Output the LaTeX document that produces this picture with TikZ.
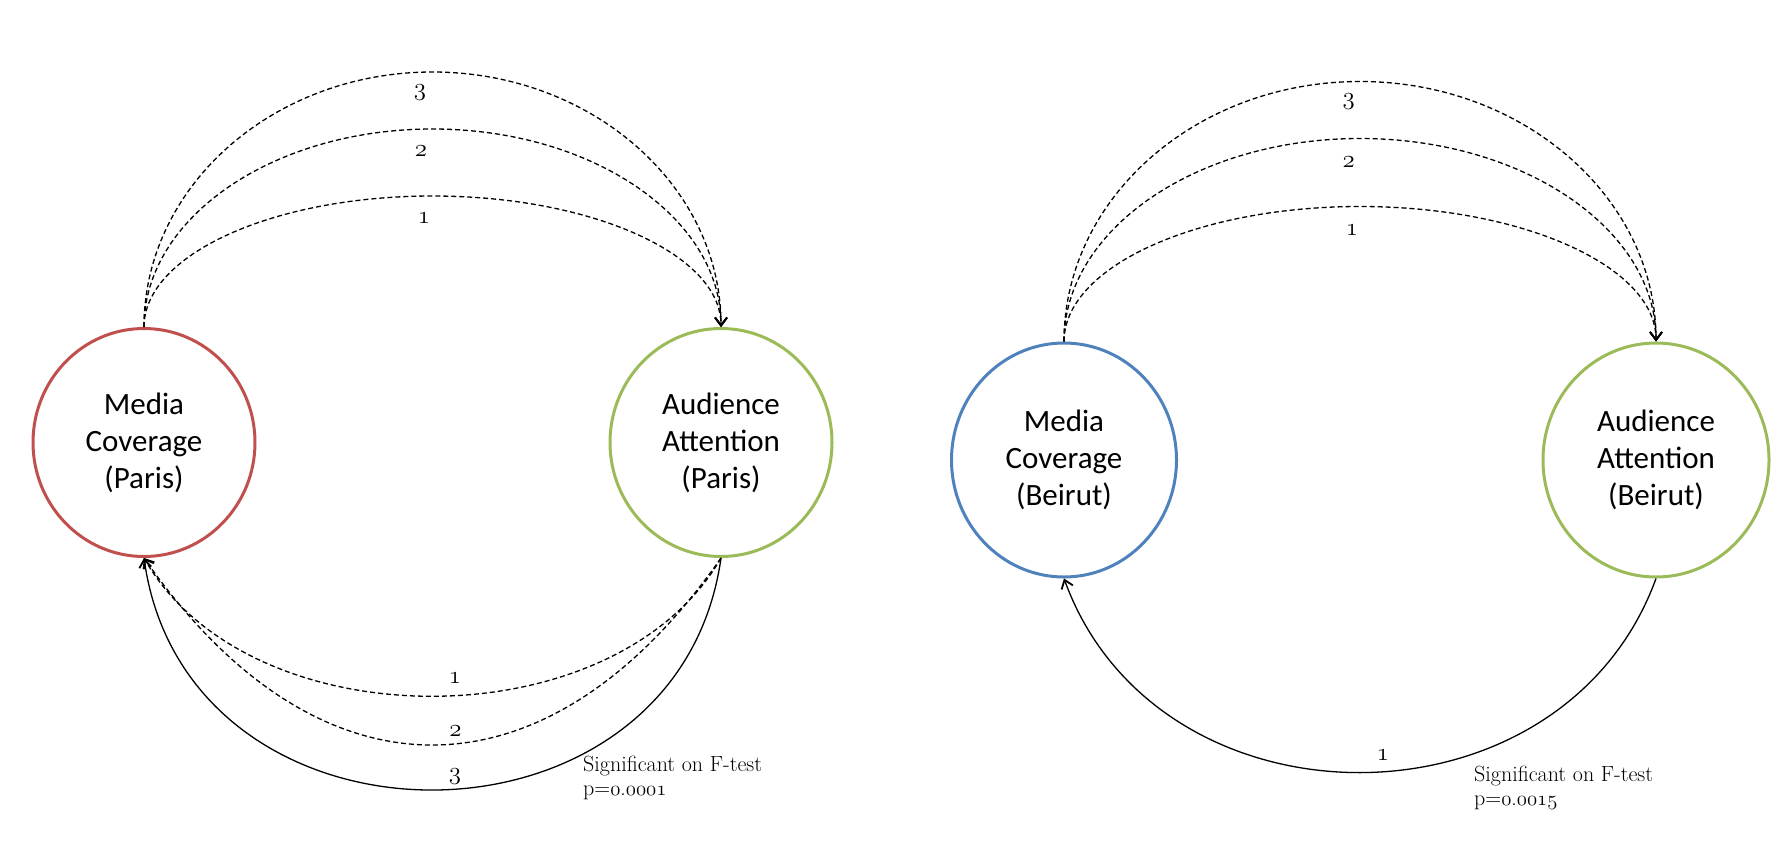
\documentclass[tikz,border=0pt]{standalone}
\usepackage{fontspec}
\newfontfamily\carlito{Carlito}
\usetikzlibrary{shapes.geometric,arrows.meta,calc}
\definecolor{cred}{RGB}{192,80,77}
\definecolor{cgreen}{RGB}{155,187,89}
\definecolor{cblue}{RGB}{79,129,189}
\newcommand\osnum[1]{{\usefont{OML}{cmm}{m}{it}#1}}
\begin{document}
\begin{tikzpicture}[x=1pt,y=1pt,
  var/.style={ellipse, draw, line width=3pt, inner sep=0pt, align=center,
     font=\carlito\fontsize{31}{37}\selectfont},
  dep/.style={line width=1.3pt, -{Straight Barb[length=8pt,width=12pt,line width=1.8pt]}},
  lag/.style={dep, dash pattern=on 5pt off 3pt},
  num/.style={font=\fontsize{27}{28}\selectfont, inner sep=0pt},
  note/.style={font=\fontsize{22}{24}\selectfont, align=left, anchor=north west, inner sep=0pt}
]
\useasboundingbox (0,0) rectangle (1789,-847);

% nodes
\node[var, draw=cred, minimum width=222pt, minimum height=228pt] (mp) at (144,-442.5) {Media\\Coverage\\(Paris)};
\node[var, draw=cgreen, minimum width=222pt, minimum height=228pt] (ap) at (721,-442.5) {Audience\\Attention\\(Paris)};
\node[var, draw=cblue, minimum width=225pt, minimum height=234pt] (mb) at (1064,-460) {Media\\Coverage\\(Beirut)};
\node[var, draw=cgreen, minimum width=226pt, minimum height=234pt] (ab) at (1656,-460) {Audience\\Attention\\(Beirut)};

% Paris: top arcs (media -> audience)
\coordinate (pt1) at ($(mp.north)!0.5!(ap.north)+(0,131)$);
\coordinate (pt2) at ($(mp.north)!0.5!(ap.north)+(0,198)$);
\coordinate (pt3) at ($(mp.north)!0.5!(ap.north)+(0,255)$);
\draw[lag] (mp.north) .. controls +(0,72.4) and +(-159.3,0) .. (pt1) .. controls +(159.3,0) and +(0,72.4) .. (ap.north);
\draw[lag] (mp.north) .. controls +(0,109.4) and +(-159.3,0) .. (pt2) .. controls +(159.3,0) and +(0,109.4) .. (ap.north);
\draw[lag] (mp.north) .. controls +(0,140.8) and +(-159.3,0) .. (pt3) .. controls +(159.3,0) and +(0,140.8) .. (ap.north);
\node[num] (lp1) at (424,-218) {\osnum{1}};
\node[num] (lp2) at (421,-151) {\osnum{2}};
\node[num] (lp3) at (420,-92.5) {\osnum{3}};

% Paris: bottom arcs (audience -> media)
\draw[lag] (ap.south) .. controls +(-120:212.5) and +(-60:212.5) .. (mp.south);
\draw[lag] (ap.south) .. controls +(-125:304) and +(-55:304) .. (mp.south);
\draw[dep] (ap.south) .. controls +(-98:312) and +(-82:312) .. (mp.south);
\node[num] (lq1) at (455,-678) {\osnum{1}};
\node[num] (lq2) at (455.5,-731) {\osnum{2}};
\node[num] (lq3) at (455,-777) {\osnum{3}};
\node[note] (sp) at (583,-756) {Significant on F-test\\p=\osnum{0}.\osnum{0001}};

% Beirut: top arcs
\coordinate (bt1) at ($(mb.north)!0.5!(ab.north)+(0,135)$);
\coordinate (bt2) at ($(mb.north)!0.5!(ab.north)+(0,203)$);
\coordinate (bt3) at ($(mb.north)!0.5!(ab.north)+(0,260)$);
\draw[lag] (mb.north) .. controls +(0,74.6) and +(-163.5,0) .. (bt1) .. controls +(163.5,0) and +(0,74.6) .. (ab.north);
\draw[lag] (mb.north) .. controls +(0,112.1) and +(-163.5,0) .. (bt2) .. controls +(163.5,0) and +(0,112.1) .. (ab.north);
\draw[lag] (mb.north) .. controls +(0,143.6) and +(-163.5,0) .. (bt3) .. controls +(163.5,0) and +(0,143.6) .. (ab.north);
\node[num] (lb1) at (1352,-230.5) {\osnum{1}};
\node[num] (lb2) at (1348.7,-161.7) {\osnum{2}};
\node[num] (lb3) at (1348.7,-101.7) {\osnum{3}};

% Beirut: bottom arc
\draw[dep] (ab.south) .. controls +(-110:275) and +(-70:275) .. (mb.south);
\node[num] (lc1) at (1383,-755) {\osnum{1}};
\node[note] (sb) at (1474,-765.5) {Significant on F-test\\p=\osnum{0}.\osnum{0015}};
\end{tikzpicture}
\end{document}
